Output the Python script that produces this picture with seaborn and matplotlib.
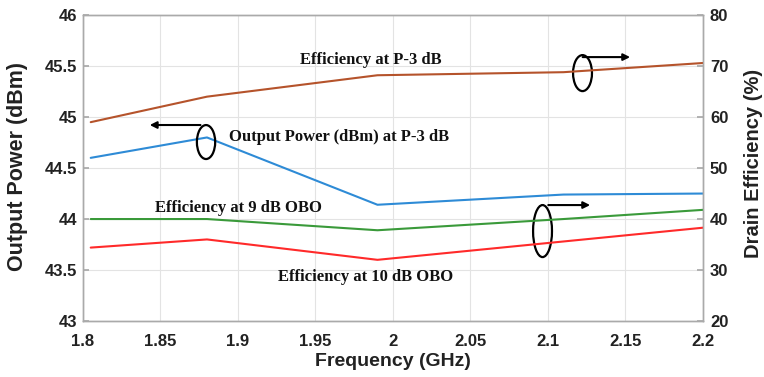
import matplotlib
matplotlib.use("Agg")
import matplotlib.pyplot as plt
import seaborn as sns
import pandas as pd
from matplotlib.patches import Ellipse

freq = [1.805, 1.88, 1.99, 2.11, 2.2]
pout = [44.60, 44.80, 44.14, 44.24, 44.25]
eff_p3 = [59.0, 64.0, 68.2, 68.8, 70.6]
eff_9 = [40.0, 40.0, 37.8, 40.0, 41.8]
eff_10 = [34.4, 36.0, 32.0, 35.6, 38.3]

xticks = [1.8, 1.85, 1.9, 1.95, 2.0, 2.05, 2.1, 2.15, 2.2]
xticklabels = ["1.8", "1.85", "1.9", "1.95", "2", "2.05", "2.1", "2.15", "2.2"]
yl_ticks = [43, 43.5, 44, 44.5, 45, 45.5, 46]
yl_labels = ["43", "43.5", "44", "44.5", "45", "45.5", "46"]
yr_ticks = [20, 30, 40, 50, 60, 70, 80]

sns.set_theme(style="whitegrid")
plt.rcParams['font.family'] = ['Liberation Sans', 'DejaVu Sans']

fig = plt.figure(figsize=(7.64, 3.77), dpi=100)
ax = fig.add_axes([0.1086, 0.1485, 0.8115, 0.8115])
ax2 = ax.twinx()

df_l = pd.DataFrame({"f": freq, "p": pout})
df_r = pd.DataFrame({"f": freq, "a": eff_p3, "b": eff_9, "c": eff_10})

sns.lineplot(data=df_l, x="f", y="p", ax=ax, color="#2E8BD6", lw=1.5)
sns.lineplot(data=df_r, x="f", y="a", ax=ax2, color="#B5532B", lw=1.5)
sns.lineplot(data=df_r, x="f", y="b", ax=ax2, color="#3A9A3A", lw=1.5)
sns.lineplot(data=df_r, x="f", y="c", ax=ax2, color="#FF2A2A", lw=1.5)

ax.set_xlim(1.8, 2.2)
ax.set_ylim(43, 46)
ax2.set_ylim(20, 80)
ax.set_xticks(xticks)
ax.set_xticklabels(xticklabels)
ax.set_yticks(yl_ticks)
ax.set_yticklabels(yl_labels)
ax2.set_yticks(yr_ticks)
ax2.grid(False)
ax.grid(True, color="#E3E3E3", lw=0.8)

for a in (ax, ax2):
    for s in a.spines.values():
        s.set_color("#AAAAAA")
        s.set_linewidth(1.0)
    a.tick_params(labelsize=12, length=4, color="#AAAAAA", direction="in")
    for lab in a.get_xticklabels() + a.get_yticklabels():
        lab.set_fontweight("bold")
        lab.set_color("#222222")
ax.tick_params(axis="x", pad=9)
ax.tick_params(axis="y", pad=4)
ax2.tick_params(axis="y", pad=5)

ax.set_xlabel("Frequency (GHz)", fontsize=14, fontweight="bold", color="#222222", labelpad=3)
ax.set_ylabel("Output Power (dBm)", fontsize=15.5, fontweight="bold", color="#222222")
ax2.set_ylabel("Drain Efficiency (%)", fontsize=14.5, fontweight="bold", color="#222222")
ax.yaxis.set_label_coords(-0.089, 0.505)
ax2.yaxis.set_label_coords(1.066, 0.515)

tfont = dict(family=["Liberation Serif", "DejaVu Serif"], fontweight="bold", fontsize=12, color="#111111")
ax.text(1.940, 45.559, "Efficiency at P-3 dB", ha="left", va="center", **tfont)
ax.text(1.8942, 44.804, "Output Power (dBm) at P-3 dB", ha="left", va="center", **tfont)
ax.text(1.8465, 44.108, "Efficiency at 9 dB OBO", ha="left", va="center", **tfont)
ax.text(1.9258, 43.431, "Efficiency at 10 dB OBO", ha="left", va="center", **tfont)

# ellipses + arrows (in data coords of left axis)
akw = dict(arrowstyle="-|>", color="black", lw=1.5, mutation_scale=10)
ax.add_patch(Ellipse((1.8794, 44.755), 0.0118, 0.333, fill=False, ec="black", lw=1.6, zorder=5))
ax.annotate("", xy=(1.8413, 44.922), xytext=(1.8776, 44.922), arrowprops=akw)
ax.add_patch(Ellipse((2.1223, 45.431), 0.0122, 0.353, fill=False, ec="black", lw=1.6, zorder=5))
ax.annotate("", xy=(2.1548, 45.588), xytext=(2.1206, 45.588), arrowprops=akw)
ax.add_patch(Ellipse((2.0965, 43.882), 0.0122, 0.51, fill=False, ec="black", lw=1.6, zorder=5))
ax.annotate("", xy=(2.129, 44.137), xytext=(2.0984, 44.137), arrowprops=akw)

fig.savefig("out.png", dpi=100)
